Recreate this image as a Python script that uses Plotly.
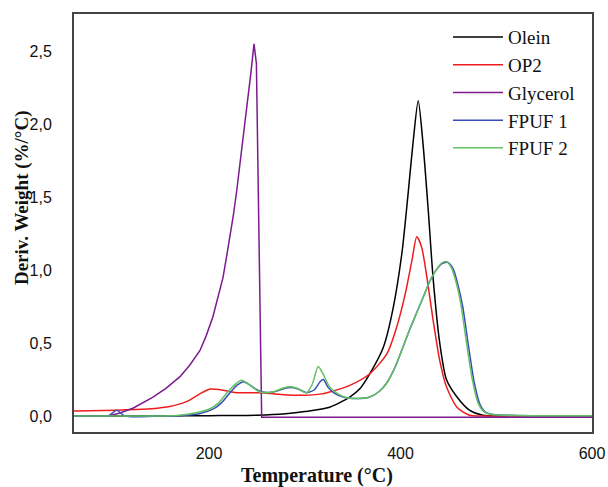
import plotly.graph_objects as go

# ---- data ----
olein_x = [59, 150, 200, 250, 280, 300, 326, 347, 358, 368, 382, 392, 401.5, 408, 413, 418.5, 423.5, 429, 434, 441, 448, 459, 472, 486, 520, 600]
olein_y = [0, 0, 0.002, 0.005, 0.015, 0.03, 0.06, 0.13, 0.19, 0.29, 0.47, 0.73, 1.12, 1.53, 1.87, 2.165, 1.87, 1.41, 0.95, 0.5, 0.25, 0.13, 0.04, 0.005, 0.002, 0]

op2_x = [59, 90, 114, 140, 159, 177, 190, 201, 212, 229, 253, 270, 288, 316, 326, 347, 368, 386, 396, 405, 412, 417, 422, 427.6, 434, 441, 448, 459, 472, 490, 600]
op2_y = [0.035, 0.038, 0.042, 0.05, 0.065, 0.1, 0.15, 0.185, 0.18, 0.16, 0.16, 0.15, 0.142, 0.15, 0.165, 0.21, 0.29, 0.43, 0.61, 0.84, 1.07, 1.23, 1.16, 0.95, 0.66, 0.38, 0.2, 0.06, 0.005, 0, 0]

gly_x = [59, 95, 107, 121, 141.5, 155, 169.7, 180, 190.6, 197, 204, 209, 214.6, 218, 222, 225.5, 229, 232, 235.5, 238, 240.8, 244, 247, 249.5, 255, 262, 300, 400, 600]
gly_y = [0, 0, 0.02, 0.055, 0.13, 0.19, 0.27, 0.35, 0.45, 0.55, 0.68, 0.8, 0.95, 1.08, 1.23, 1.38, 1.55, 1.71, 1.9, 2.03, 2.19, 2.37, 2.555, 2.42, -0.008, -0.008, -0.008, -0.008, -0.008]

fpuf1_x = [59, 90, 95, 103.6, 112, 150, 170, 190, 205, 213, 222, 229, 236, 242, 250, 256, 267, 277, 285, 293, 302, 310, 316, 319.4, 324, 330, 340, 350, 368, 378, 386, 394, 403, 410, 417, 424, 431, 437, 443, 449, 455, 460, 465, 471, 477, 483, 489, 497, 520, 600]
fpuf1_y = [0, 0, 0, 0.04, 0, 0, 0.002, 0.015, 0.05, 0.09, 0.16, 0.21, 0.235, 0.215, 0.18, 0.165, 0.165, 0.185, 0.195, 0.185, 0.16, 0.18, 0.235, 0.25, 0.2, 0.16, 0.13, 0.12, 0.13, 0.17, 0.23, 0.33, 0.48, 0.6, 0.71, 0.82, 0.93, 1.0, 1.045, 1.055, 1.01, 0.9, 0.75, 0.48, 0.23, 0.08, 0.025, 0.01, 0.004, 0.002]

fpuf2_x = [59, 150, 166, 185, 201, 210, 219, 226, 234, 240, 247, 253, 260, 267, 277, 284.6, 292, 302, 308, 314, 319, 326, 335, 344, 356, 368, 378, 386, 394, 403, 410, 417, 424, 431, 437, 443, 448, 453, 458, 463, 469, 475, 481, 487, 495, 520, 600]
fpuf2_y = [0, 0, 0.003, 0.02, 0.05, 0.09, 0.16, 0.21, 0.245, 0.225, 0.19, 0.165, 0.16, 0.165, 0.19, 0.2, 0.19, 0.16, 0.22, 0.34, 0.29, 0.2, 0.15, 0.125, 0.12, 0.13, 0.17, 0.23, 0.33, 0.48, 0.6, 0.71, 0.82, 0.93, 1.0, 1.05, 1.06, 1.02, 0.92, 0.77, 0.5, 0.25, 0.09, 0.03, 0.01, 0.003, 0.002]

y_ticks = [0, 0.5, 1.0, 1.5, 2.0, 2.5]
x_ticks = [200, 400, 600]

series = [
    ("Olein", olein_x, olein_y, "#000000", "spline"),
    ("OP2", op2_x, op2_y, "#ee1c1c", "spline"),
    ("Glycerol", gly_x, gly_y, "#7d1a8f", "linear"),
    ("FPUF 1", fpuf1_x, fpuf1_y, "#3a4cb5", "spline"),
    ("FPUF 2", fpuf2_x, fpuf2_y, "#62c160", "spline"),
]

fig = go.Figure()
for name, xs, ys, col, shp in series:
    line = dict(color=col, width=1.5, shape=shp)
    if shp == "spline":
        line["smoothing"] = 0.7
    fig.add_trace(go.Scatter(x=xs, y=ys, mode="lines", name=name, line=line))

serif = "Liberation Serif"
sans = "Liberation Sans"

fig.update_layout(
    width=608, height=487, autosize=False,
    margin=dict(l=74, r=16, t=14, b=55),
    paper_bgcolor="white", plot_bgcolor="white",
    separators=",.",
    showlegend=True,
    legend=dict(
        x=0.722, y=0.99, xanchor="left", yanchor="top",
        font=dict(family=serif, size=19, color="#111"),
        bgcolor="rgba(0,0,0,0)", borderwidth=0,
        tracegroupgap=0, itemwidth=50,
    ),
    xaxis=dict(
        range=[59, 600], tickvals=x_ticks, ticks="", showgrid=False, zeroline=False,
        showline=True, mirror=True, linecolor="#444", linewidth=2,
        tickfont=dict(family=sans, size=16, color="#111"),
        ticklabelstandoff=6, automargin=False,
    ),
    yaxis=dict(
        range=[-0.11, 2.76], tickvals=y_ticks, tickformat=".1f", ticks="", showgrid=False, zeroline=False,
        showline=True, mirror=True, linecolor="#444", linewidth=2,
        tickfont=dict(family=sans, size=16, color="#111"),
        ticklabelstandoff=17, automargin=False,
    ),
    annotations=[
        dict(text="<b>Temperature (°C)</b>", xref="paper", yref="paper", x=0.470, y=-0.1030,
             xanchor="center", yanchor="middle", showarrow=False,
             font=dict(family=serif, size=20, color="#111")),
        dict(text="<b>Deriv. Weight (%/°C)</b>", xref="paper", yref="paper", x=-0.1004, y=0.562,
             xanchor="center", yanchor="middle", showarrow=False, textangle=-90,
             font=dict(family=serif, size=19, color="#111")),
    ],
)

fig.write_html(
    "out.html",
    config={"responsive": False, "displayModeBar": False},
    post_script="document.body.style.margin='0';document.body.style.overflow='hidden';",
)
